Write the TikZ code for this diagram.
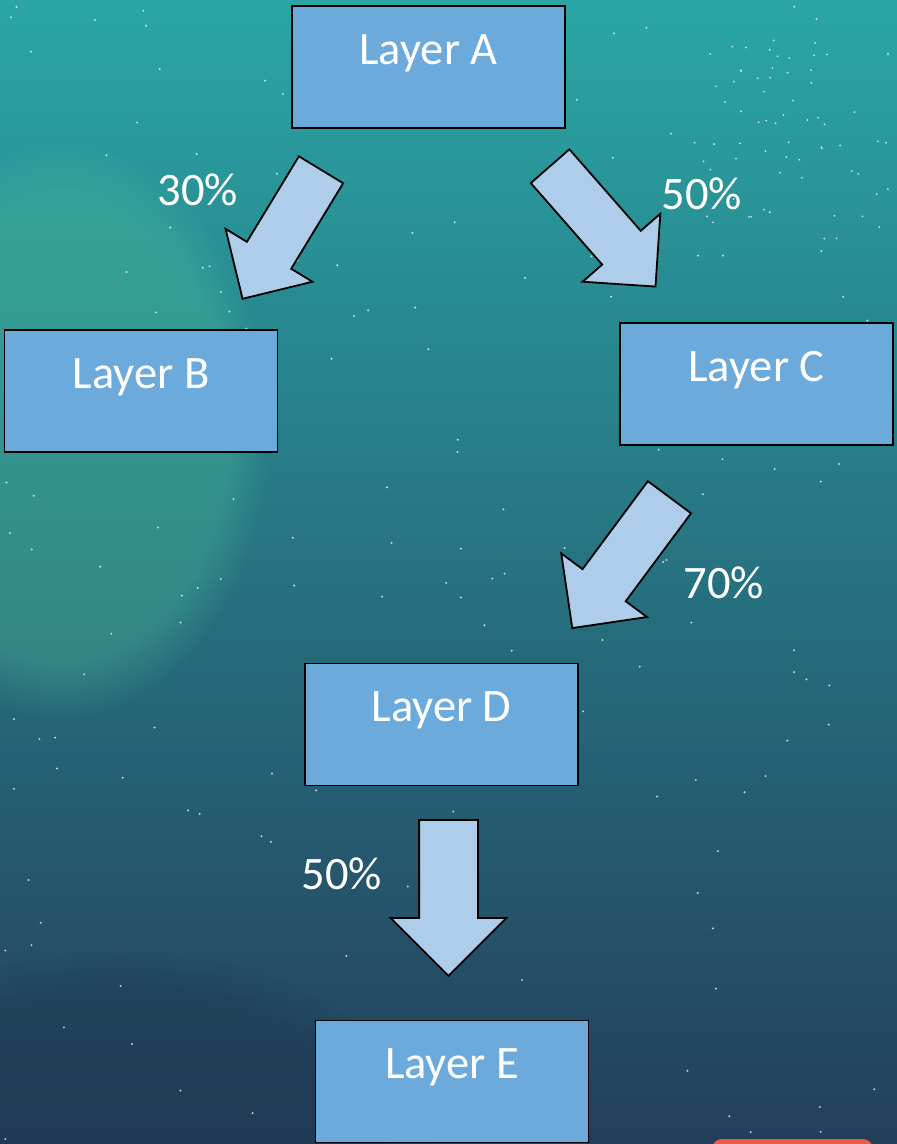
\documentclass[tikz,border=0pt]{standalone}
\usepackage{fontspec}
\setmainfont{Carlito}
\usepackage{tikz}
\usetikzlibrary{shapes.arrows,fadings,positioning}
\definecolor{capaazul}{HTML}{6DAADC}
\definecolor{flechaazul}{HTML}{AECDEA}
\definecolor{fondoarriba}{HTML}{2AA6A5}
\definecolor{fondomedio}{HTML}{2A9592}
\definecolor{fondoabajo}{HTML}{233E5B}
\definecolor{nebulosa}{HTML}{52C79E}
\definecolor{rojo}{HTML}{EE5A43}
\tikzset{
    capa/.style={rectangle,draw,fill=capaazul,line width=1.8pt,minimum width=273pt,minimum height=122pt,inner sep=0pt,text=white,font=\fontsize{46.5}{56}\selectfont,text height=31pt,text depth=37pt},
    porcentaje/.style={text=white,font=\fontsize{46.5}{56}\selectfont,anchor=base,inner sep=0pt},
    flechagorda/.style={single arrow,draw,fill=flechaazul,line width=1.8pt,inner sep=0pt,text depth=0pt,anchor=tail},
    estrella/.style={white,opacity=0.75},
}
\begin{document}
\begin{tikzpicture}[x=1pt,y=-1pt]
    \useasboundingbox (0,0) rectangle (897,1144);
    \clip (0,0) rectangle (897,1144);
    % fondo
    \shade[top color=fondoarriba,middle color=fondomedio,bottom color=fondoabajo] (0,0) rectangle (897,1144);
    \fill[nebulosa,opacity=0.3,path fading=circle with fuzzy edge 20 percent] (60,430) ellipse (210pt and 290pt);
    \fill[fondoabajo!80!black,opacity=0.35,path fading=circle with fuzzy edge 20 percent] (120,1170) ellipse (320pt and 220pt);
    \pgfmathsetseed{11}
    \foreach \s in {1,...,170}
        \fill[estrella] ({rnd*897},{rnd*1144}) circle (1.1pt);
    \foreach \s in {1,...,60}
        \fill[estrella] ({690+rnd*200},{40+rnd*200}) circle (1pt);
    \fill[rojo,rounded corners=10pt] (712,1139) rectangle (873,1190);

    \node [capa] (capaA) at (428.5,67) {Layer A};
    \node [capa] (capaB) at (141,391) {Layer B};
    \node [capa] (capaC) at (756.5,384) {Layer C};
    \node [capa] (capaD) at (441.5,724.5) {Layer D};
    \node [capa] (capaE) at (452,1081.5) {Layer E};

    \node [flechagorda,minimum height=151pt,text height=50pt,single arrow head extend=25pt,rotate=-121.3] (fAB) at (321.5,169) {};
    \node [flechagorda,minimum height=160pt,text height=49.5pt,single arrow head extend=26pt,rotate=-48.8] (fAC) at (549.5,165.5) {};
    \node [flechagorda,minimum height=163pt,text height=52pt,single arrow head extend=26.5pt,rotate=-126.6] (fCD) at (670,496.5) {};
    \node [flechagorda,minimum height=156pt,text height=57pt,single arrow head extend=28.5pt,rotate=-90] (fDE) at (448.5,819) {};

    \node [porcentaje] (lAB) at (198,205) {30\%};
    \node [porcentaje] (lAC) at (702,209) {50\%};
    \node [porcentaje] (lCD) at (724,598) {70\%};
    \node [porcentaje] (lDE) at (342,889) {50\%};
\end{tikzpicture}
\end{document}
